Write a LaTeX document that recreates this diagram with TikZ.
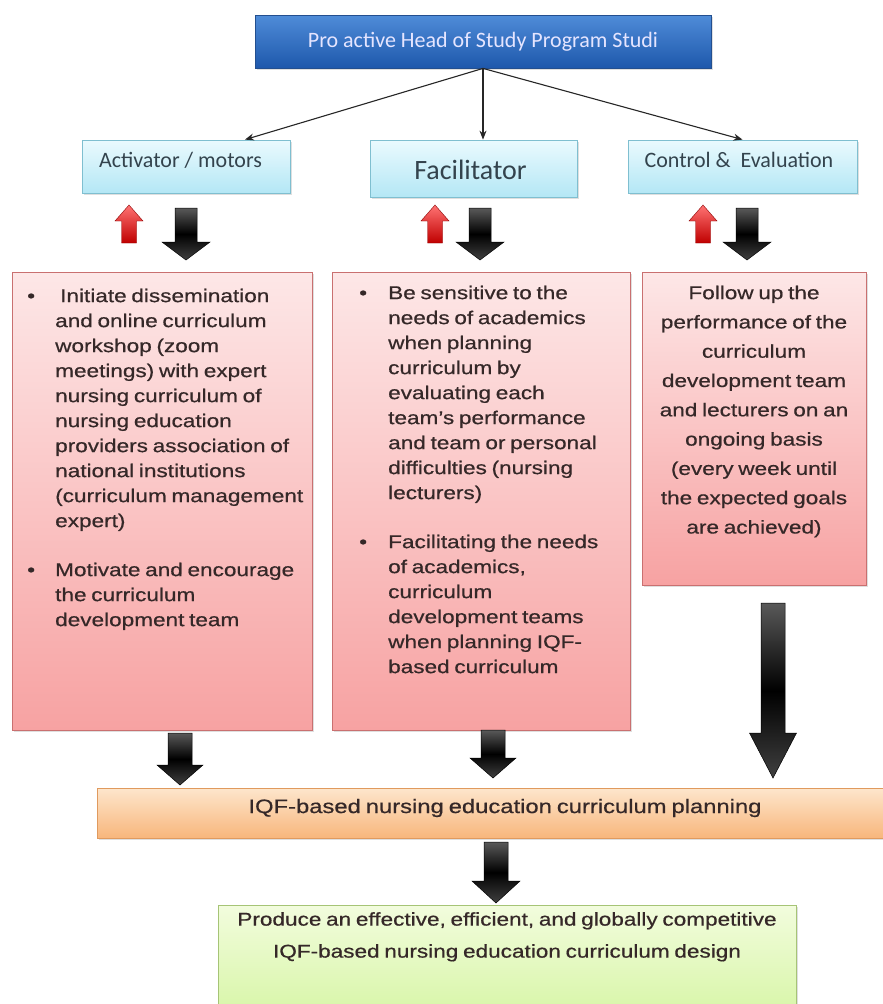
\documentclass[tikz,border=0pt]{standalone}
\usepackage{fontspec}
\setmainfont{Liberation Sans}
\newfontfamily\bodyf[FakeStretch=1.22,FakeBold=0.6,WordSpace=0.75]{Liberation Sans}
\newfontfamily\calib{Carlito}
\usetikzlibrary{shadows,arrows.meta}
\definecolor{bluetop}{HTML}{4F8CD8}
\definecolor{bluebot}{HTML}{1E58AC}
\definecolor{blueedge}{HTML}{234F8F}
\definecolor{cyantop}{HTML}{EAFAFE}
\definecolor{cyanbot}{HTML}{B4E7F5}
\definecolor{cyanedge}{HTML}{7FBFD0}
\definecolor{pinktop}{HTML}{FDE7E7}
\definecolor{pinkbot}{HTML}{F7A2A2}
\definecolor{pinkedge}{HTML}{C97070}
\definecolor{orangetop}{HTML}{FDE6CC}
\definecolor{orangebot}{HTML}{F8B67C}
\definecolor{orangeedge}{HTML}{E09A5E}
\definecolor{greentop}{HTML}{F2FCDD}
\definecolor{greenbot}{HTML}{D4F5A0}
\definecolor{greenedge}{HTML}{A6C476}
\definecolor{txtdark}{HTML}{352828}
\definecolor{lbltxt}{HTML}{33434D}
\newcommand{\blockdn}[7]{\path[#1] ({#2-#5},#3) -- ({#2+#5},#3) -- ({#2+#5},{#4-#7}) -- ({#2+#6},{#4-#7}) -- (#2,#4) -- ({#2-#6},{#4-#7}) -- ({#2-#5},{#4-#7}) -- cycle;}
\newcommand{\blockup}[7]{\path[#1] ({#2-#5},#3) -- ({#2+#5},#3) -- ({#2+#5},{#4+#7}) -- ({#2+#6},{#4+#7}) -- (#2,#4) -- ({#2-#6},{#4+#7}) -- ({#2-#5},{#4+#7}) -- cycle;}
\begin{document}
\begin{tikzpicture}[x=1pt,y=-1pt,
  box/.style={draw, rectangle, inner sep=0pt, line width=0.8pt},
  shad/.style={drop shadow={opacity=0.25, shadow xshift=1.5pt, shadow yshift=-2pt}},
  topbox/.style={box, shad, draw=blueedge, top color=bluetop, bottom color=bluebot},
  lblbox/.style={box, shad, draw=cyanedge, top color=cyantop, bottom color=cyanbot},
  pinkbox/.style={box, shad, draw=pinkedge, top color=pinktop, bottom color=pinkbot},
  orangebox/.style={box, shad, draw=orangeedge, top color=orangetop, bottom color=orangebot},
  greenbox/.style={box, shad, draw=greenedge, top color=greentop, bottom color=greenbot},
  lbl/.style={inner sep=0pt, text=lbltxt, font=\calib\fontsize{22}{26}\selectfont},
  body/.style={inner sep=0pt, text=txtdark, font=\bodyf\fontsize{18.5}{25}\selectfont},
  conn/.style={draw=black!85, line width=1.1pt, -{Stealth[length=9pt,width=7pt]}},
  darrow/.style={draw=black, line width=0.5pt, top color=black!65, bottom color=black!75, middle color=black},
  rarrow/.style={draw=red!55!black, line width=0.4pt, top color=red!55!white, bottom color=red!75!black}
]
\useasboundingbox (0,0) rectangle (883,1004);
\fill[white] (0,0) rectangle (883,1004);

% top box
\node[topbox, minimum width=456pt, minimum height=53pt, text=white!90!blue,
      font=\calib\fontsize{22}{26}\selectfont] (top) at (483,41.5) {Pro active Head of Study Program Studi};

% label boxes
\node[lblbox, minimum width=208pt, minimum height=53pt] (act) at (186,166.5) {};
\node[lbl] (actt) at (180.5,160) {Activator / motors};
\node[lblbox, minimum width=207pt, minimum height=57pt] (fac) at (473.5,168.5) {};
\node[lbl, font=\calib\fontsize{28}{32}\selectfont] (fact) at (470.5,170) {Facilitator};
\node[lblbox, minimum width=229pt, minimum height=53pt] (ctl) at (742.5,166.5) {};
\node[lbl] (ctlt) at (739,160) {Control \&\ \ Evaluation};

% connectors from top
\coordinate (j) at (top.south);
\draw[conn] (j) -- ([xshift=59pt]act.north);
\draw[conn] (j) -- (fac.north -| j);
\draw[conn] (j) -- (ctl.north);

% pink boxes
\node[pinkbox, minimum width=300pt, minimum height=458pt] (pl) at (162,501) {};
\node[pinkbox, minimum width=298pt, minimum height=458pt] (pm) at (481,501) {};
\node[pinkbox, minimum width=224pt, minimum height=313pt] (pr) at (754,428.5) {};

\node[body, anchor=north west, align=left] (plt) at (27,288.5) {%
\makebox[28pt][l]{\textbullet}\hspace{5pt}Initiate dissemination\\
\hspace*{28pt}and online curriculum\\
\hspace*{28pt}workshop (zoom\\
\hspace*{28pt}meetings) with expert\\
\hspace*{28pt}nursing curriculum of\\
\hspace*{28pt}nursing education\\
\hspace*{28pt}providers association of\\
\hspace*{28pt}national institutions\\
\hspace*{28pt}(curriculum management\\
\hspace*{28pt}expert)\\[24pt]
\makebox[28pt][l]{\textbullet}Motivate and encourage\\
\hspace*{28pt}the curriculum\\
\hspace*{28pt}development team};

\node[body, anchor=north west, align=left] (pmt) at (359,285.5) {%
\makebox[29pt][l]{\textbullet}Be sensitive to the\\
\hspace*{29pt}needs of academics\\
\hspace*{29pt}when planning\\
\hspace*{29pt}curriculum by\\
\hspace*{29pt}evaluating each\\
\hspace*{29pt}team’s performance\\
\hspace*{29pt}and team or personal\\
\hspace*{29pt}difficulties (nursing\\
\hspace*{29pt}lecturers)\\[24pt]
\makebox[29pt][l]{\textbullet}Facilitating the needs\\
\hspace*{29pt}of academics,\\
\hspace*{29pt}curriculum\\
\hspace*{29pt}development teams\\
\hspace*{29pt}when planning IQF-\\
\hspace*{29pt}based curriculum};

\node[body, anchor=north, align=center, font=\bodyf\fontsize{18.5}{29.3}\selectfont] (prt) at (754,285.5) {%
Follow up the\\
performance of the\\
curriculum\\
development team\\
and lecturers on an\\
ongoing basis\\
(every week until\\
the expected goals\\
are achieved)};

% orange and green boxes
\node[orangebox, minimum width=816pt, minimum height=50pt] (ob) at (505,813) {};
\node[body, font=\bodyf\fontsize{19.5}{24}\selectfont] (obt) at (505,808) {IQF-based nursing education curriculum planning};
\node[greenbox, minimum width=578pt, minimum height=125pt] (gb) at (507,967.5) {};
\node[body, anchor=north, align=center, font=\bodyf\fontsize{18.5}{32}\selectfont] (gbt) at (507,912) {%
Produce an effective, efficient, and globally competitive\\
IQF-based nursing education curriculum design};

% small arrows under label boxes
\blockup{rarrow}{129}{243}{205}{7.5}{14}{16}
\blockdn{darrow}{186}{208}{260}{11}{24}{18}
\blockup{rarrow}{435}{243}{205}{7.5}{14}{16}
\blockdn{darrow}{480}{208}{260}{11}{24}{18}
\blockup{rarrow}{703}{243}{205}{7.5}{14}{16}
\blockdn{darrow}{747}{208}{260}{11}{24}{18}

% arrows to orange box
\blockdn{darrow}{180}{733}{785}{12}{23}{20}
\blockdn{darrow}{493}{730}{778}{12}{23}{20}
\blockdn{darrow}{773}{603}{778}{12}{23.5}{45}
% arrow to green box
\blockdn{darrow}{496}{842}{903}{12}{24}{22}
\end{tikzpicture}
\end{document}
